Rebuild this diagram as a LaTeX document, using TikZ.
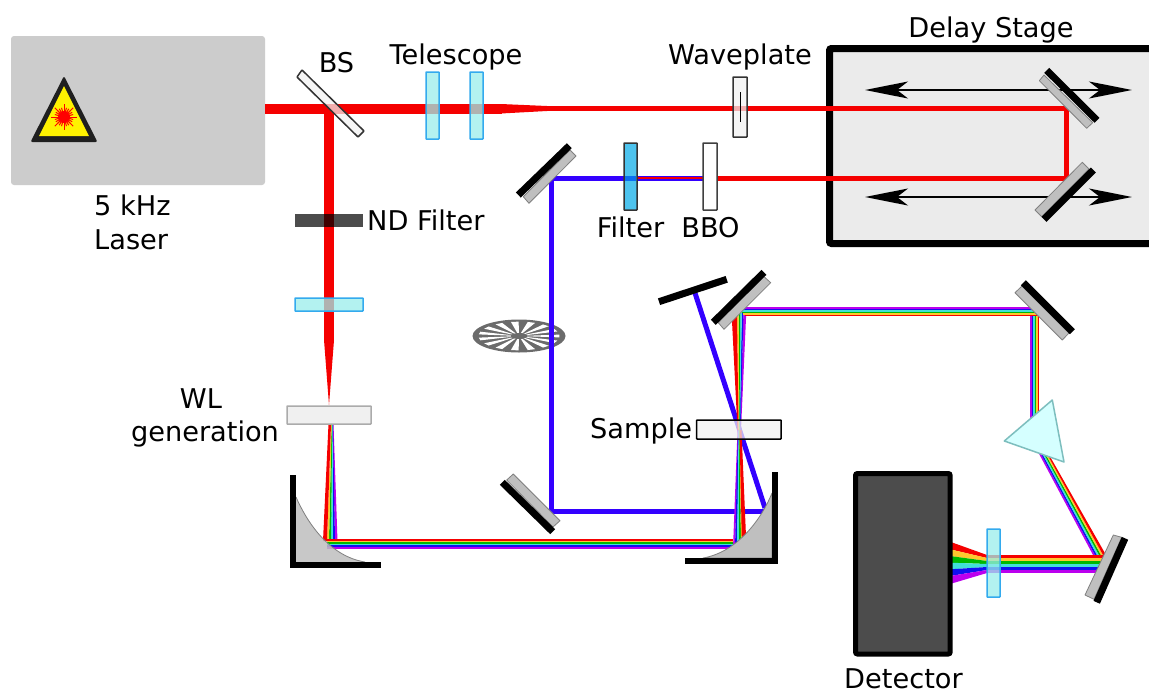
\documentclass[tikz,border=0pt]{standalone}
\usepackage{fontspec}
\setmainfont{DejaVu Sans}
\usetikzlibrary{arrows.meta}
\definecolor{rR}{HTML}{F50000}
\definecolor{rY}{HTML}{FFC82E}
\definecolor{rG}{HTML}{00B800}
\definecolor{rC}{HTML}{40E0D8}
\definecolor{rB}{HTML}{1010F0}
\definecolor{rP}{HTML}{BB00EE}
\definecolor{bluebeam}{HTML}{3300FF}
\definecolor{lensfill}{HTML}{9AEEEB}
\definecolor{lensline}{HTML}{33AAEE}
\definecolor{filterfill}{HTML}{4DC3EE}
\definecolor{filtercross}{HTML}{0A6EF0}
\definecolor{prismfill}{HTML}{D5FFFF}
\definecolor{prismline}{HTML}{7DBEBE}
\definecolor{ndcross}{HTML}{3F0000}
\tikzset{
  label/.style={font=\fontsize{27.2}{31}\selectfont,anchor=base,inner sep=0pt,text=black},
  redthick/.style={draw=rR,line width=10pt},
  redthin/.style={draw=rR,line width=5pt,line join=miter},
  bluethin/.style={draw=bluebeam,line width=5pt,line join=miter},
  lens/.style={fill=lensfill,fill opacity=.75,draw=lensline,line width=1.5pt,rounded corners=.5pt},
  mgrey/.style={fill=black!25,draw=black!50,line width=.8pt,line join=round},
  mblack/.style={draw=black,line width=7pt},
  plate/.style={fill=black!5,fill opacity=.72,line width=1.5pt,rounded corners=.5pt},
  travel/.style={draw=black,line width=2pt,{Stealth[length=43pt,width=17pt,inset=11pt]}-{Stealth[length=43pt,width=17pt,inset=11pt]}},
}
\begin{document}
\begin{tikzpicture}[x=1pt,y=-1pt]
\useasboundingbox (0,0) rectangle (1149,691);
\fill[white] (0,0) rectangle (1149,691);

% laser
\fill[black!20,rounded corners=3pt] (11,36) rectangle (265,185);
\fill[black!88,rounded corners=2pt] (64,76) -- (97.5,142) -- (30.5,142) -- cycle;
\fill[yellow] (64,86) -- (89,136) -- (39,136) -- cycle;
\foreach \a in {0,15,...,345} \draw[red,line width=1pt] (64,117) -- +(\a:9.5);
\foreach \a in {0,45,...,315} \draw[red,line width=1pt] (64,117) -- +(\a:13);
\fill[red] (64,117) circle (6);

% delay stage
\fill[black!8] (829.5,48.5) rectangle (1149,243.5);
\draw[black,line width=7pt,rounded corners=2pt] (1149,48.5) -- (829.5,48.5) -- (829.5,243.5) -- (1149,243.5);
\coordinate (a1l) at (865,90); \coordinate (a1r) at (1132,90);
\coordinate (a2l) at (865,197); \coordinate (a2r) at (1132,197);
\draw[travel] (a1l) -- (a1r);
\draw[travel] (a2l) -- (a2r);

% red beams
\draw[redthick] (265,109) -- (502,109);
\fill[rR] (501,104) -- (547,106) -- (547,111) -- (501,113.5) -- cycle;
\draw[redthin] (540,108.5) -- (1066.5,108.5) -- (1066.5,178.3) -- (717,178.3);
\draw[redthick] (329,109) -- (329,340);
\fill[rR] (324,340) -- (334,340) -- (329,405) -- cycle;

% chopper
\begin{scope}[shift={(519,336)},xscale=46.5,yscale=16.5]
  \fill[black!58] (0,0) circle (1);
  \foreach \a in {0,24,...,336}
    \fill[white] (\a-5.5:.14) -- (\a-5.5:.87) -- (\a+5.5:.87) -- (\a+5.5:.14) -- cycle;
  \fill[black!58] (0,0) circle (.18);
\end{scope}

% blue beams
\draw[bluethin] (703,178) -- (551,178) -- (551,511) -- (765,511);
\draw[bluethin] (695,293) -- (765,508);
\draw[rR,line width=2pt] (631,177.7) -- (703,177.7);

% rainbow: WL to first mirror
\foreach \cl/\ta/\tb/\ba/\bb in {rP/332.5/333.5/335/337.5,rB/332/333/332.5/335,rC/332/332.7/331/333,rG/331.5/332.2/329/331,rY/331/331.7/327/329,rR/328.5/331/323/327}
  \fill[\cl] (\ta,424) -- (\tb,424) -- (\bb,541) -- (\ba,541) -- cycle;
% rainbow: into second mirror
\foreach \cl/\ta/\tb/\ba/\bb in {rP/737.5/738.5/733/735,rB/738/739/735/737,rC/738.5/739.5/737/739,rG/739/739.8/739/741,rY/739.5/740/741/742.5,rR/739.5/741.5/742/746.5}
  \fill[\cl] (\ta,430) -- (\tb,430) -- (\bb,548) -- (\ba,548) -- cycle;
% rainbow: long horizontal
\foreach \cl/\y in {rR/540.2,rY/541.7,rG/543.2,rC/544.7,rB/546.2,rP/547.7}
  \draw[\cl,line width=1.6pt] (327,\y) -- (733,\y);
% rainbow: sample to upper mirror
\foreach \cl/\ba/\bb/\ta/\tb/\ya/\yb in {rP/740/741/743.5/746.5/310/307,rB/739.5/740.5/741.8/743.5/312/310,rC/739/740/740.2/741.8/313/312,rG/738.5/739.5/738.7/740.2/315/313,rY/738/739/737/738.7/316/315,rR/737.5/738.5/732/737/321/316}
  \fill[\cl] (\ba,430) -- (\bb,430) -- (\tb,\yb) -- (\ta,\ya) -- cycle;
% rainbow: upper horizontal and down to the prism
\foreach \cl/\k in {rP/0,rB/1.5,rC/3,rG/4.5,rY/6,rR/7.5}
  \draw[\cl,line width=1.6pt,line join=miter] (737+\k,308+\k) -- (1031+\k,308+\k) -- (1031+\k,420);
% rainbow: prism to last mirror
\foreach \cl/\ta/\tb/\ba/\bb in {rP/1037/1038.8/1093/1095,rB/1038.8/1040.3/1095/1097,rC/1040.3/1041.8/1097/1099,rG/1041.8/1043.3/1099/1101,rY/1043.3/1044.8/1101/1103,rR/1044.8/1046.3/1103/1106}
  \fill[\cl] (\ta,450) -- (\tb,450) -- (\bb,555) -- (\ba,555) -- cycle;
% rainbow: last mirror to detector
\foreach \cl/\y in {rR/556.5,rY/559.5,rG/562.5,rC/565.5,rB/568.5,rP/571.5}
  \draw[\cl,line width=3.1pt] (987,\y) -- (1108,\y);
\foreach \cl/\a/\b/\c/\d in {rR/555/558/541.7/549.3,rY/558/561/549.3/556,rG/561/564/556/562.7,rC/564/567/562.7/569.3,rB/567/570/569.3/576,rP/570/573/576/584}
  \fill[\cl] (987,\a) -- (987,\b) -- (950,\d) -- (950,\c) -- cycle;

% lenses and plates
\draw[lens] (426,72) rectangle (439,139);
\draw[lens] (470,72) rectangle (483,139);
\draw[lens] (295,298) rectangle (363,311);
\draw[lens] (987,529) rectangle (1000,597);
\fill[black!70] (295,214) rectangle (363,227);
\fill[ndcross] (324,214) rectangle (334,227);
\draw[plate,draw=black!80] (302,70) -- (297,77) -- (358,137) -- (364,131) -- cycle;
\draw[plate,draw=black!80] (733,77) rectangle (747,137);
\draw[black,line width=1pt] (740,92) -- (740,122);
\draw[fill=black!6,draw=black!33,line width=1.5pt,rounded corners=.5pt] (287,406) rectangle (371,424);
\draw[plate,draw=black] (696.7,420) rectangle (781,439);
\draw[fill=white,draw=black!75,line width=1.5pt,rounded corners=.5pt] (703,143) rectangle (717,210);
\draw[fill=filterfill,draw=black!80,line width=1.5pt,rounded corners=.5pt] (624,143) rectangle (637,210);
\fill[filtercross] (624.8,175.5) rectangle (636.2,180.5);

% flat mirrors
\filldraw[mgrey] (1039.3,80.7) -- (1086.7,128.3) -- (1092.7,122.7) -- (1044,75) -- cycle;
\draw[mblack] (1046.7,70.3) -- (1097,120.3);
\filldraw[mgrey] (1082.3,162.3) -- (1035,210) -- (1041.7,216.7) -- (1089,169) -- cycle;
\draw[mblack] (1093.3,170) -- (1044,219.3);
\filldraw[mgrey] (523.3,196.7) -- (529,203.3) -- (576,156) -- (570,150) -- cycle;
\draw[mblack] (518.3,195) -- (569.3,145.7);
\filldraw[mgrey] (513.3,474) -- (506.7,480) -- (553,527) -- (560,520.7) -- cycle;
\draw[mblack] (502.3,482.3) -- (552.7,531.7);
\filldraw[mgrey] (718.3,322.7) -- (724,329.3) -- (770.7,282.7) -- (763.3,276) -- cycle;
\draw[mblack] (713.3,322.3) -- (764,272.3);
\draw[mblack] (659,301.7) -- (726.7,279.3);
\filldraw[mgrey] (1015,292.7) -- (1062.3,340) -- (1069,333) -- (1022,286) -- cycle;
\draw[mblack] (1023.3,282.7) -- (1072.3,331.7);
\filldraw[mgrey] (1113.3,535) -- (1085,595) -- (1094,599.3) -- (1121.7,537.3) -- cycle;
\draw[mblack] (1125,538.3) -- (1096.7,602.3);

% parabolic mirrors
\fill[black!25,fill opacity=.85] (296,497) .. controls (306,520) and (328,556) .. (365,562) -- (296,562) -- cycle;
\draw[black!50,line width=.8pt] (296,497) .. controls (306,520) and (328,556) .. (365,562);
\draw[black,line width=6pt,line join=miter] (293,475) -- (293,565) -- (381,565);
\filldraw[mgrey] (772,493) .. controls (762,518) and (738,552) .. (703,558) -- (772,558) -- cycle;
\draw[black,line width=6pt,line join=miter] (775,472) -- (775,561) -- (685,561);

% prism
\filldraw[fill=prismfill,draw=prismline,line width=1.5pt,line join=round] (1052.3,400) -- (1004.3,441) -- (1064,462) -- cycle;

% detector
\draw[fill=black!70,draw=black,line width=5pt,rounded corners=2pt] (855.5,473.5) rectangle (950.2,654);

% labels
\node[label] (tDelay) at (991,37) {Delay Stage};
\node[label] (tBS) at (336.5,72) {BS};
\node[label] (tTele) at (456,64) {Telescope};
\node[label] (tWave) at (740,64) {Waveplate};
\node[label,anchor=base west] (tLaserA) at (94,215) {5 kHz};
\node[label,anchor=base west] (tLaserB) at (94,249) {Laser};
\node[label,anchor=base west] (tND) at (367,230) {ND Filter};
\node[label] (tFilter) at (630.5,237) {Filter};
\node[label] (tBBO) at (710.5,237) {BBO};
\node[label] (tWL) at (201,408) {WL};
\node[label] (tGen) at (205,441) {generation};
\node[label,anchor=base west] (tSample) at (590,438) {Sample};
\node[label] (tDet) at (903.5,688) {Detector};
\end{tikzpicture}
\end{document}
